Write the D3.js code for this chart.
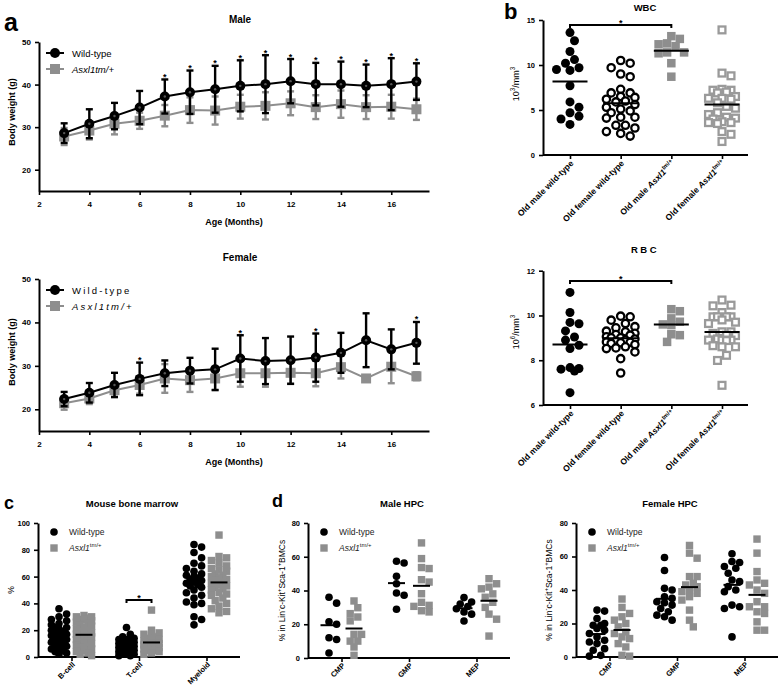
<!DOCTYPE html>
<html><head><meta charset="utf-8">
<script src="https://cdn.jsdelivr.net/npm/d3@7"></script>
<style>
body{margin:0;background:#fff;}
svg text{font-family:'Liberation Sans',Arial,sans-serif;}
</style></head>
<body>
<script>
// ---------------- DATA ----------------
// Panel a: body weight (mean ± SD) by age
const months = [3,4,5,6,7,8,9,10,11,12,13,14,15,16,17];
const maleWTMean  = [28.6,30.8,32.6,34.6,37.2,38.2,38.9,39.7,40.1,40.8,40.1,40.1,39.7,40.1,40.7];
const maleWTSD    = [2.3,3.4,3.1,3.9,4.0,5.1,5.5,6.0,6.8,5.2,5.0,5.3,5.0,6.1,4.3];
const maleMutMean = [27.8,29.2,30.8,31.5,32.7,34.0,33.9,34.8,35.0,35.6,34.7,35.4,34.7,34.8,34.2];
const maleMutSD   = [2.0,2.1,2.5,1.9,2.5,3.0,3.3,2.8,3.2,2.8,2.8,3.2,2.8,2.8,2.5];
const maleStarMonths = [7,8,9,10,11,12,13,14,15,16,17];
const femaleWTMean  = [22.35,23.8,25.6,27.0,28.3,28.9,29.2,31.7,31.1,31.3,31.9,33.0,35.9,33.8,35.3];
const femaleWTSD    = [1.65,2.25,2.8,3.75,2.95,2.95,4.75,5.35,5.3,5.45,5.55,4.6,6.2,4.6,4.8];
const femaleMutMean = [21.4,22.5,24.4,25.6,27.1,26.7,27.1,28.3,28.3,28.4,28.3,29.7,27.1,29.8,27.6];
const femaleMutSD   = [1.5,1.3,1.5,2.0,3.3,2.7,2.7,3.1,3.1,2.5,3.0,2.6,0.4,3.8,0.9];
const femaleStarMonths = [6,10,13,17];
const ageTicks = [2,4,6,8,10,12,14,16];
const weightTicks = [20,30,40,50];

// Panel b: blood counts
const bloodCats = ["Old male wild-type","Old female wild-type","Old male Asxl1 tm/+","Old female Asxl1 tm/+"];
const wbcMaleWT = [13.6,12.7,11.5,10.6,10.2,9.7,9.5,9.4,7.7,5.9,5.3,4.3,4.7,4.0,3.4];
const wbcFemaleWT = [10.5,10.2,9.7,9.0,8.7,7.3,6.9,6.9,6.5,6.4,6.2,6.0,5.9,5.6,5.3,5.1,4.9,4.7,4.2,4.1,4.2,3.3,3.0,3.3,2.6,2.4,2.1];
const wbcMaleMut = [13.2,12.9,12.4,12.3,12.1,11.4,11.4,11.3,10.2,8.7];
const wbcFemaleMut = [13.9,9.1,8.8,7.3,7.2,7.2,7.0,6.9,6.5,6.3,6.3,6.2,5.8,5.4,5.2,4.7,4.5,4.2,4.1,4.0,3.7,3.6,3.6,3.5,2.6,2.3,1.5];
const wbcTicks = [0,5,10,15];
const rbcMaleWT = [11.03,10.13,9.69,9.63,9.31,9.04,8.9,8.67,8.52,7.67,7.6,7.52,7.63,6.55];
const rbcFemaleWT = [9.97,9.94,9.79,9.64,9.5,9.45,9.3,9.27,9.2,9.15,9.12,9.05,9.0,9.0,8.95,8.9,8.85,8.82,8.8,8.78,8.75,8.7,8.6,8.55,8.52,8.37,8.07,7.43];
const rbcMaleMut = [10.28,10.19,9.87,9.72,9.6,9.57,9.16,9.12,8.82];
const rbcFemaleMut = [10.69,10.46,10.43,10.13,9.94,9.94,9.94,9.94,9.8,9.64,9.7,9.27,9.27,9.2,9.12,9.1,8.95,8.9,8.9,8.9,8.88,8.6,8.6,8.65,8.22,7.99,6.88];
const rbcTicks = [6,8,10,12];

// Panel c: bone marrow lineages (%)
const bmCats = ["B-cell","T-cell","Myeloid"];
const bmWT = [
  [36,32,30,28,27,25,24,22,22,21,20,19,18,17,16,16,15,14,13,12,11,10,9,8,7,6,5,4,3,2],
  [22,17,15,14,13,13,12,12,11,10,10,9,9,8,8,7,7,6,6,5,5,4,4,3,3,2,2,1,1],
  [84,82,78,74,70,68,66,64,62,61,60,59,58,57,56,55,54,53,52,50,48,46,44,41,40,39,30,28,24]
];
const bmMut = [
  [31,30,30,29,28,28,27,26,25,24,23,22,21,20,19,18,18,17,16,15,15,14,13,12,11,10,10,9,8,7,6,5,4,3,2,1],
  [35,20,18,17,16,15,14,13,12,12,11,11,10,10,9,9,8,8,7,7,6,6,5,5,4,3,2],
  [91,75,74,72,70,68,66,65,64,62,61,60,59,58,57,56,55,54,53,52,51,50,48,47,46,44,42,40,38,36,34,33]
];
const pctTicksC = [0,20,40,60,80,100];

// Panel d: HPC (% in Lin- c-Kit+ Sca-1+ BMCs)
const hpcCats = ["CMP","GMP","MEP"];
const maleHpcWT = [
  [36,32.5,21.5,20,12,11,3],
  [57.3,56.3,48.4,44,38.5,37.2,28.9],
  [35.8,33.2,32,30.5,29.2,27.3,26,21.9]
];
const maleHpcMut = [
  [33.8,29.8,26.3,24.3,22,14,14,10,10,6.5,1.6],
  [68.2,58.9,53.6,53,46.4,45,38.1,33,31.2,30.6,28,27.3],
  [47,44,42,41,38,36,33,30,26,23,13]
];
const femaleHpcWT = [
  [28,27.4,23,20,19,19,17,16,14,12,10,9,8,5,4,1,0.5],
  [59.4,51.6,41,40,36,35,33,32.4,31,29,27,25,24,22],
  [61.6,57,56.4,54,53,50,46,45,42,40,39,31,30,29,12]
];
const femaleHpcMut = [
  [34.6,29.6,26,24,22,20,18,15,14,12,11,8,6,1,0.5],
  [66.6,62,59,48,48,44,43,42,40,39,38,36,34,28,22,18],
  [70.4,62,51,46,44,43,40,38,33,30,30,27,26,21,16,16]
];
const pctTicksD = [0,20,40,60,80];

// ---------------- DRAWING ----------------
const W = 778, H = 693;
const GRAY = "#8e8e8e";
const svg = d3.select("body").append("svg").attr("width", W).attr("height", H);

function styleAxis(g, fs) {
  g.select(".domain").attr("stroke", "#000").attr("stroke-width", 2);
  g.selectAll(".tick line").attr("stroke", "#000").attr("stroke-width", 1.6);
  g.selectAll(".tick text").attr("font-size", fs || 8).attr("font-weight", "bold").attr("fill", "#000")
    .attr("font-family", "'Liberation Sans',Arial,sans-serif");
}

function rich(textSel, parts, fs) {
  let shift = 0;
  parts.forEach(p => {
    const ts = textSel.append("tspan").text(p.t);
    if (p.i) ts.attr("font-style", "italic");
    const target = p.sup ? -fs * 0.45 : 0;
    if (target !== shift) { ts.attr("dy", target - shift); shift = target; }
    if (p.sup) ts.attr("font-size", fs * 0.7);
  });
}

function label(txt, x, y, fs, opts = {}) {
  const t = svg.append("text").attr("x", x).attr("y", y).attr("font-size", fs)
    .attr("font-weight", opts.weight || "bold").attr("text-anchor", opts.anchor || "middle").attr("fill", "#000")
    .text(txt);
  if (opts.ls) t.attr("letter-spacing", opts.ls);
  return t;
}

// ---------- Panel a ----------
function timePanel(cfg) {
  const x = d3.scaleLinear().domain([2, 17.5]).range([39, 429]);
  const y = d3.scaleLinear().domain([15, 50]).range([cfg.bottom, cfg.top]);
  const g = svg.append("g");
  const ax = g.append("g").attr("transform", `translate(0,${cfg.bottom})`)
    .call(d3.axisBottom(x).tickValues(ageTicks).tickSize(4).tickSizeOuter(0).tickPadding(6));
  styleAxis(ax, 8);
  const ay = g.append("g").attr("transform", `translate(39,0)`)
    .call(d3.axisLeft(y).tickValues(weightTicks).tickSize(4).tickSizeOuter(0).tickPadding(4));
  styleAxis(ay, 8);

  const series = [
    {mean: cfg.mutMean, sd: cfg.mutSD, color: GRAY, shape: "sq"},
    {mean: cfg.wtMean, sd: cfg.wtSD, color: "#000", shape: "dot"}
  ];
  series.forEach(s => {
    const pts = months.map((m, i) => ({m, v: s.mean[i], sd: s.sd[i]}));
    g.append("path").datum(pts).attr("fill", "none").attr("stroke", s.color).attr("stroke-width", 2)
      .attr("d", d3.line().x(d => x(d.m)).y(d => y(d.v)));
    const eb = g.append("g").attr("stroke", s.color).attr("stroke-width", 2.4);
    eb.selectAll("line.v").data(pts).join("line").attr("class", "v")
      .attr("x1", d => x(d.m)).attr("x2", d => x(d.m)).attr("y1", d => y(d.v - d.sd)).attr("y2", d => y(d.v + d.sd));
    eb.selectAll("line.t").data(pts).join("line").attr("class", "t")
      .attr("x1", d => x(d.m) - 3.5).attr("x2", d => x(d.m) + 3.5).attr("y1", d => y(d.v + d.sd)).attr("y2", d => y(d.v + d.sd));
    eb.selectAll("line.b").data(pts).join("line").attr("class", "b")
      .attr("x1", d => x(d.m) - 3.5).attr("x2", d => x(d.m) + 3.5).attr("y1", d => y(d.v - d.sd)).attr("y2", d => y(d.v - d.sd));
    if (s.shape === "dot") {
      g.selectAll(null).data(pts).join("circle").attr("cx", d => x(d.m)).attr("cy", d => y(d.v)).attr("r", 5).attr("fill", "#000");
      g.selectAll(null).data(pts).join("circle").attr("cx", d => x(d.m)).attr("cy", d => y(d.v)).attr("r", 1.2).attr("fill", "#555");
    } else {
      g.selectAll(null).data(pts).join("rect").attr("x", d => x(d.m) - 5).attr("y", d => y(d.v) - 5)
        .attr("width", 10).attr("height", 10).attr("fill", GRAY);
    }
  });
  // stars
  cfg.stars.forEach(m => {
    const i = months.indexOf(m);
    g.append("text").attr("x", x(m)).attr("y", y(cfg.wtMean[i] + cfg.wtSD[i]) + 0.5).attr("text-anchor", "middle")
      .attr("font-size", 9).attr("font-weight", "bold").text("*");
  });
  // legend
  const lg = g.append("g");
  [[cfg.top + 11, "#000", "dot", cfg.leg1], [cfg.top + 27, GRAY, "sq", cfg.leg2]].forEach(([ly, c, sh, parts]) => {
    lg.append("line").attr("x1", 46).attr("x2", 64).attr("y1", ly).attr("y2", ly).attr("stroke", c).attr("stroke-width", 2);
    if (sh === "dot") lg.append("circle").attr("cx", 55).attr("cy", ly).attr("r", 5).attr("fill", c);
    else lg.append("rect").attr("x", 50).attr("y", ly - 5).attr("width", 10).attr("height", 10).attr("fill", c);
    const t = lg.append("text").attr("x", 72).attr("y", ly + 3.5).attr("font-size", 9.5);
    if (cfg.ls) t.attr("letter-spacing", cfg.ls);
    rich(t, parts, 9.5);
  });
  label(cfg.title, 240, cfg.titleY, 10);
  label("Age (Months)", 234, cfg.bottom + 34, 9);
  label("Body weight (g)", 0, 0, 9).attr("transform", `translate(15,${cfg.ylabY}) rotate(-90)`);
}

timePanel({top: 42, bottom: 191, wtMean: maleWTMean, wtSD: maleWTSD, mutMean: maleMutMean, mutSD: maleMutSD,
  stars: maleStarMonths, title: "Male", titleY: 23, ylabY: 112,
  leg1: [{t: "Wild-type"}], leg2: [{t: "Asxl1tm/+", i: 1}]});
timePanel({top: 279, bottom: 431, wtMean: femaleWTMean, wtSD: femaleWTSD, mutMean: femaleMutMean, mutSD: femaleMutSD,
  stars: femaleStarMonths, title: "Female", titleY: 261, ylabY: 352, ls: 2.2,
  leg1: [{t: "Wild-type"}], leg2: [{t: "Asxl1tm/+", i: 1}]});
label("a", 4, 31, 25, {anchor: "start"});

// ---------- beeswarm helper ----------
function swarm(vals, y, cx, r, maxSpread) {
  const pts = vals.map(v => ({v, y: y(v)})).sort((a, b) => a.y - b.y);
  const placed = [];
  const step = r;
  pts.forEach(p => {
    let best = cx, bestScore = -Infinity;
    outer:
    for (let k = 0; k <= 20; k++) {
      for (const sgn of (k ? [1, -1] : [1])) {
        const xx = cx + sgn * k * step;
        if (Math.abs(xx - cx) > maxSpread) continue;
        let md = Infinity;
        placed.forEach(q => { md = Math.min(md, Math.hypot(q.x - xx, q.y - p.y)); });
        if (md >= 2 * r * 0.95) { best = xx; break outer; }
        if (md > bestScore + 0.01) { bestScore = md; best = xx; }
      }
    }
    p.x = best; placed.push(p);
  });
  return placed;
}

function drawPoints(g, pts, style, size) {
  if (style === "dot") {
    g.selectAll(null).data(pts).join("circle").attr("cx", d => d.x).attr("cy", d => d.y).attr("r", size / 2).attr("fill", "#000");
  } else if (style === "ring") {
    g.selectAll(null).data(pts).join("circle").attr("cx", d => d.x).attr("cy", d => d.y).attr("r", size / 2 - 1.1)
      .attr("fill", "#fff").attr("stroke", "#000").attr("stroke-width", 2.3);
  } else if (style === "sq") {
    g.selectAll(null).data(pts).join("rect").attr("x", d => d.x - size / 2).attr("y", d => d.y - size / 2)
      .attr("width", size).attr("height", size).attr("fill", GRAY);
  } else if (style === "sqOpen") {
    g.selectAll(null).data(pts).join("rect").attr("x", d => d.x - size / 2 + 1.1).attr("y", d => d.y - size / 2 + 1.1)
      .attr("width", size - 2.2).attr("height", size - 2.2).attr("fill", "#fff").attr("stroke", "#9a9a9a").attr("stroke-width", 2.3);
  }
}

function meanLine(g, vals, y, cx, w) {
  const m = d3.mean(vals);
  g.append("line").attr("x1", cx - w / 2).attr("x2", cx + w / 2).attr("y1", y(m)).attr("y2", y(m))
    .attr("stroke", "#000").attr("stroke-width", 2);
}

// ---------- Panel b ----------
const bloodLabelParts = [
  [{t: "Old male wild-type"}],
  [{t: "Old female wild-type"}],
  [{t: "Old male "}, {t: "Asxl1", i: 1}, {t: "tm/+", sup: 1}],
  [{t: "Old female "}, {t: "Asxl1", i: 1}, {t: "tm/+", sup: 1}]
];
function bloodPanel(cfg) {
  const g = svg.append("g");
  const x = d3.scalePoint().domain(bloodCats).range([570, 722]);
  const y = d3.scaleLinear().domain(cfg.domain).range([cfg.bottom, cfg.top]);
  const ax = g.append("g").attr("transform", `translate(0,${cfg.bottom})`)
    .call(d3.axisBottom(x).tickSize(4).tickFormat(""));
  ax.select(".domain").attr("d", `M543,0H748`);
  styleAxis(ax);
  const ay = g.append("g").attr("transform", `translate(543,0)`)
    .call(d3.axisLeft(y).tickValues(cfg.ticks).tickFormat(d3.format("d")).tickSize(4).tickSizeOuter(0).tickPadding(4));
  styleAxis(ay, 7.5);
  const styles = ["dot", "ring", "sq", "sqOpen"];
  const sizes = [9, 9.5, 8.5, 9];
  cfg.groups.forEach((vals, i) => {
    const cx = x(bloodCats[i]);
    const pts = swarm(vals, y, cx, sizes[i] / 2, 15);
    drawPoints(g, pts, styles[i], sizes[i]);
  });
  cfg.groups.forEach((vals, i) => meanLine(g, vals, y, x(bloodCats[i]), 35));
  // significance bracket
  const bx1 = x(bloodCats[0]), bx2 = x(bloodCats[2]);
  g.append("path").attr("d", `M${bx1},${cfg.brY + 3}V${cfg.brY}H${bx2}V${cfg.brY + 3}`).attr("fill", "none")
    .attr("stroke", "#000").attr("stroke-width", 2);
  g.append("text").attr("x", (bx1 + bx2) / 2).attr("y", cfg.brY + 1).attr("text-anchor", "middle")
    .attr("font-size", 9).attr("font-weight", "bold").text("*");
  // x labels
  bloodCats.forEach((c, i) => {
    const t = g.append("text").attr("transform", `translate(${x(c) + 4},${cfg.bottom + 9}) rotate(-45)`)
      .attr("text-anchor", "end").attr("font-size", 8.5).attr("font-weight", "bold");
    rich(t, bloodLabelParts[i], 8.5);
  });
  // title & y label
  const tt = label(cfg.title, 645, cfg.titleY, 9.5);
  if (cfg.titleLS) tt.attr("letter-spacing", cfg.titleLS);
  const yl = g.append("text").attr("transform", `translate(519,${cfg.ylabY}) rotate(-90)`).attr("text-anchor", "middle")
    .attr("font-size", 9);
  rich(yl, cfg.ylab, 9);
}
bloodPanel({domain: [0, 15], top: 20, bottom: 155, ticks: wbcTicks,
  groups: [wbcMaleWT, wbcFemaleWT, wbcMaleMut, wbcFemaleMut], brY: 25, title: "WBC", titleY: 11, ylabY: 84,
  ylab: [{t: "10"}, {t: "3", sup: 1}, {t: "/mm"}, {t: "3", sup: 1}]});
bloodPanel({domain: [6, 12], top: 270.7, bottom: 405, ticks: rbcTicks,
  groups: [rbcMaleWT, rbcFemaleWT, rbcMaleMut, rbcFemaleMut], brY: 281, title: "RBC", titleY: 253, titleLS: 2.5, ylabY: 332,
  ylab: [{t: "10"}, {t: "6", sup: 1}, {t: "/mm"}, {t: "3", sup: 1}]});
label("b", 504, 19, 22, {anchor: "start"});

// ---------- Panels c & d ----------
function groupedPanel(cfg) {
  const g = svg.append("g");
  const x = d3.scalePoint().domain(cfg.cats).range([cfg.x0 + 33.5, cfg.x0 + 168.5]);
  const y = d3.scaleLinear().domain(cfg.domain).range([cfg.bottom, cfg.top]);
  const ax = g.append("g").attr("transform", `translate(0,${cfg.bottom})`)
    .call(d3.axisBottom(x).tickSize(4).tickFormat(""));
  ax.select(".domain").attr("d", `M${cfg.x0},0H${cfg.x0 + 202}`);
  styleAxis(ax);
  const ay = g.append("g").attr("transform", `translate(${cfg.x0},0)`)
    .call(d3.axisLeft(y).tickValues(cfg.ticks).tickSize(4).tickSizeOuter(0).tickPadding(4));
  styleAxis(ay, 7.5);
  cfg.cats.forEach((c, i) => {
    const cw = x(c) - 12.5, cm = x(c) + 12.5;
    drawPoints(g, swarm(cfg.wt[i], y, cw, 3.8, 8), "dot", 7.6);
    drawPoints(g, swarm(cfg.mut[i], y, cm, 3.8, 8), "sq", 7.4);
    meanLine(g, cfg.wt[i], y, cw, 17);
    meanLine(g, cfg.mut[i], y, cm, 17);
    g.append("text").attr("transform", `translate(${x(c) + 4},${cfg.bottom + 8}) rotate(-45)`)
      .attr("text-anchor", "end").attr("font-size", 7.5).attr("font-weight", "bold").text(c);
  });
  // legend
  const lx = cfg.x0 + 16;
  g.append("circle").attr("cx", lx).attr("cy", cfg.top + 9).attr("r", 3.8).attr("fill", "#000");
  g.append("rect").attr("x", lx - 3.7).attr("y", cfg.top + 25 - 3.7).attr("width", 7.4).attr("height", 7.4).attr("fill", GRAY);
  g.append("text").attr("x", lx + 15).attr("y", cfg.top + 12).attr("font-size", 8.5).attr("fill", "#222").text("Wild-type");
  const l2 = g.append("text").attr("x", lx + 15).attr("y", cfg.top + 28).attr("font-size", 8.5).attr("fill", "#222");
  rich(l2, [{t: "Asxl1", i: 1}, {t: "tm/+", sup: 1}], 8.5);
  label(cfg.title, cfg.x0 + 94, 507, 9.5);
  const yl = g.append("text").attr("transform", `translate(${cfg.ylabX},${(cfg.top + cfg.bottom) / 2}) rotate(-90)`)
    .attr("text-anchor", "middle").attr("font-size", 8.5);
  rich(yl, cfg.ylab, 8.5);
  if (cfg.bracket) {
    const c = cfg.cats[cfg.bracket.cat];
    const bx1 = x(c) - 12.5, bx2 = x(c) + 12.5, by = y(cfg.bracket.v);
    g.append("path").attr("d", `M${bx1},${by + 3}V${by}H${bx2}V${by + 3}`).attr("fill", "none")
      .attr("stroke", "#000").attr("stroke-width", 2);
    g.append("text").attr("x", x(c)).attr("y", by + 1).attr("text-anchor", "middle")
      .attr("font-size", 9).attr("font-weight", "bold").text("*");
  }
}
const hpcYLab = [{t: "% in Lin"}, {t: "-", sup: 1}, {t: "c-Kit"}, {t: "+", sup: 1}, {t: "Sca-1"}, {t: "+", sup: 1}, {t: "BMCs"}];
groupedPanel({x0: 38, top: 523, bottom: 657, domain: [0, 100], ticks: pctTicksC, cats: bmCats, wt: bmWT, mut: bmMut,
  title: "Mouse bone marrow", ylabX: 14, ylab: [{t: "%"}], bracket: {cat: 1, v: 42.5}});
groupedPanel({x0: 308, top: 523, bottom: 658, domain: [0, 80], ticks: pctTicksD, cats: hpcCats, wt: maleHpcWT, mut: maleHpcMut,
  title: "Male HPC", ylabX: 285, ylab: hpcYLab});
groupedPanel({x0: 576, top: 523, bottom: 657, domain: [0, 80], ticks: pctTicksD, cats: hpcCats, wt: femaleHpcWT, mut: femaleHpcMut,
  title: "Female HPC", ylabX: 552, ylab: hpcYLab});
label("c", 4, 509, 18, {anchor: "start"});
label("d", 272, 507, 18, {anchor: "start"});
</script>
</body></html>
